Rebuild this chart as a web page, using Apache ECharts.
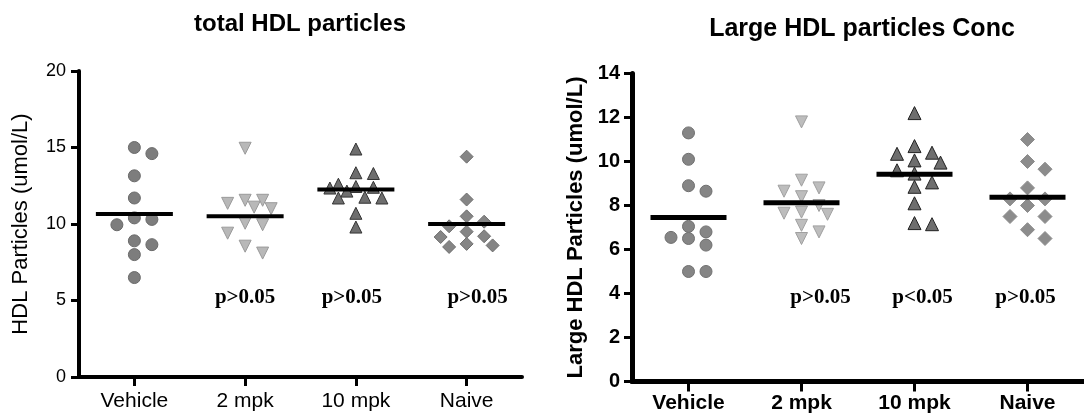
<!DOCTYPE html>
<html>
<head>
<meta charset="utf-8">
<script src="https://cdn.jsdelivr.net/npm/echarts@6/dist/echarts.min.js"></script>
<style>
html,body{margin:0;padding:0;background:#fff;}
#c{width:1084px;height:416px;}
</style>
</head>
<body>
<div id="c"></div>
<script>
// ---------- data ----------
const categories = ['Vehicle', '2 mpk', '10 mpk', 'Naive'];

const totalVehicle = [15.0, 14.6, 13.15, 11.7, 10.4, 9.95, 10.3, 8.65, 8.9, 8.0, 6.5];
const total2mpk    = [14.95, 11.35, 11.55, 11.55, 11.1, 11.0, 10.05, 9.95, 9.4, 8.1, 8.55];
const total10mpk   = [14.9, 13.3, 13.35, 12.6, 12.35, 12.45, 12.4, 12.15, 11.7, 11.7, 11.75, 10.7, 9.8];
const totalNaive   = [14.4, 11.6, 10.5, 10.15, 9.85, 9.5, 9.2, 9.15, 8.7, 8.5, 8.6];
const totalMeans   = [10.65, 10.5, 12.25, 10.0];
const totalPLabels = ['', 'p>0.05', 'p>0.05', 'p>0.05'];
const totalPLabelY = 5.2;
const totalYTicks  = { min: 0, max: 20, interval: 5 };

const largeVehicle = [11.3, 10.1, 8.65, 8.9, 6.8, 6.5, 7.05, 6.55, 6.2, 5.0, 5.0];
const large2mpk    = [11.8, 9.15, 8.65, 8.4, 8.8, 8.0, 7.6, 7.65, 7.7, 7.1, 6.5, 6.8];
const large10mpk   = [12.2, 10.7, 10.4, 10.05, 9.6, 8.85, 9.95, 9.05, 8.1, 7.15, 10.35, 9.45, 7.2];
const largeNaive   = [11.0, 10.0, 9.65, 8.8, 8.3, 8.3, 8.0, 7.5, 7.5, 6.9, 6.5];
const largeMeans   = [7.45, 8.13, 9.42, 8.38];
const largePLabels = ['', 'p>0.05', 'p<0.05', 'p>0.05'];
const largePLabelY = 3.8;
const largeYTicks  = { min: 0, max: 14, interval: 2 };

const title1 = 'total HDL particles';
const title2 = 'Large HDL particles Conc';
const yName1 = 'HDL Particles (umol/L)';
const yName2 = 'Large HDL Particles (umol/L)';

// ---------- styles ----------
const groupStyles = [
  [ // left chart
    { symbol: 'circle', size: 12, rotate: 0, color: '#7d7d7d', border: '#6a6a6a' },
    { symbol: 'triangle', size: 12, rotate: 180, color: '#b8b8b8', border: '#9a9a9a' },
    { symbol: 'triangle', size: 12, rotate: 0, color: '#6e6e6e', border: '#333333' },
    { symbol: 'diamond', size: 13, rotate: 0, color: '#858585', border: '#6f6f6f' }
  ],
  [ // right chart
    { symbol: 'circle', size: 12, rotate: 0, color: '#858585', border: '#707070' },
    { symbol: 'triangle', size: 12, rotate: 180, color: '#bdbdbd', border: '#a0a0a0' },
    { symbol: 'triangle', size: 13, rotate: 0, color: '#6e6e6e', border: '#222222' },
    { symbol: 'diamond', size: 14, rotate: 0, color: '#8c8c8c', border: '#8c8c8c' }
  ]
];

// horizontal nudge of the p-value annotations (pixels), per chart
const pLabelNudge = [[0, 0, -4, 11], [0, 19, 8, -2]];

const charts = [
  { groups: [totalVehicle, total2mpk, total10mpk, totalNaive], means: totalMeans,
    pl: totalPLabels, plY: totalPLabelY, ticks: totalYTicks, meanSize: [77, 4] },
  { groups: [largeVehicle, large2mpk, large10mpk, largeNaive], means: largeMeans,
    pl: largePLabels, plY: largePLabelY, ticks: largeYTicks, meanSize: [76, 5] }
];

const chart = echarts.init(document.getElementById('c'), null, { renderer: 'canvas' });

const FONT = '"Liberation Sans", Arial, sans-serif';
const SERIF = '"Liberation Serif", "Times New Roman", serif';

function buildSeries(offsets) {
  const series = [];
  charts.forEach((ch, gi) => {
    ch.groups.forEach((vals, ci) => {
      const st = groupStyles[gi][ci];
      series.push({
        type: 'scatter', xAxisIndex: gi, yAxisIndex: gi,
        symbol: st.symbol, symbolSize: st.size, symbolRotate: st.rotate,
        itemStyle: { color: st.color, borderColor: st.border, borderWidth: 1, opacity: 1 },
        z: 2, silent: true,
        data: vals.map((v, k) => ({
          value: [ci, v],
          symbolOffset: [offsets ? offsets[gi][ci][k] : 0, 0]
        }))
      });
    });
    // mean lines
    series.push({
      type: 'scatter', xAxisIndex: gi, yAxisIndex: gi,
      symbol: 'rect', symbolSize: ch.meanSize, z: 5, silent: true,
      itemStyle: { color: '#000', opacity: 1 },
      data: ch.means.map((m, ci) => [ci, m])
    });
    // p-value labels
    series.push({
      type: 'scatter', xAxisIndex: gi, yAxisIndex: gi,
      symbol: 'circle', symbolSize: 2, z: 6, silent: true,
      itemStyle: { color: 'rgba(0,0,0,0)', opacity: 1 },
      label: {
        show: true, position: 'inside', formatter: p => ch.pl[p.dataIndex],
        fontFamily: SERIF, fontWeight: 'bold', fontSize: 21, color: '#000', opacity: 1
      },
      data: ch.pl.map((t, ci) => ({ value: [ci, ch.plY], label: { offset: [pLabelNudge[gi][ci], 0] } }))
    });
  });
  return series;
}

function axisX(gi, bold, fs, margin, tickLen) {
  return {
    type: 'category', gridIndex: gi, data: categories, boundaryGap: true,
    axisLine: { show: true, lineStyle: { color: '#000', width: gi ? 5 : 4 } },
    axisTick: { show: true, alignWithLabel: true, length: tickLen, lineStyle: { color: '#000', width: 3 } },
    axisLabel: { color: '#000', fontFamily: FONT, fontSize: fs, fontWeight: bold ? 'bold' : 'normal', margin: margin },
    splitLine: { show: false }
  };
}
function axisY(gi, ticks, name, bold, fs, nfs, gap, margin) {
  return {
    type: 'value', gridIndex: gi, min: ticks.min, max: ticks.max, interval: ticks.interval,
    name: name, nameLocation: 'middle', nameGap: gap,
    nameTextStyle: { color: '#000', fontFamily: FONT, fontSize: nfs, fontWeight: bold ? 'bold' : 'normal' },
    axisLine: { show: true, lineStyle: { color: '#000', width: gi ? 5 : 4 } },
    axisTick: { show: true, length: 8, lineStyle: { color: '#000', width: 3 } },
    axisLabel: { color: '#000', fontFamily: FONT, fontSize: fs, fontWeight: bold ? 'bold' : 'normal', margin: margin },
    splitLine: { show: false }
  };
}

function baseOption(offsets) {
  return {
    animation: false,
    backgroundColor: '#fff',
    grid: [
      { left: 79, top: 71, width: 443, height: 306 },
      { left: 632, top: 73.5, width: 457, height: 308 }
    ],
    xAxis: [axisX(0, false, 21, 14, 9), axisX(1, true, 21, 11, 10)],
    yAxis: [axisY(0, totalYTicks, yName1, false, 18, 22, 47, 13),
            axisY(1, largeYTicks, yName2, true, 20, 22, 45, 12)],
    graphic: [
      { type: 'text', x: 300, y: 24, style: { text: title1, font: 'bold 24px ' + FONT, fill: '#000', textAlign: 'center', textVerticalAlign: 'middle' } },
      { type: 'text', x: 862, y: 29, style: { text: title2, font: 'bold 25px ' + FONT, fill: '#000', textAlign: 'center', textVerticalAlign: 'middle' } }
    ],
    series: buildSeries(offsets)
  };
}

chart.setOption(baseOption(null));

// column-scatter layout in pixel space: candidate columns, avoid overlap closer than D px
const COLS = [0, 17.5, -17.5, 9, -9, 26, -26];
function swarm(vals, gi, ci, D) {
  const pts = vals.map((v, k) => ({ k, v, py: chart.convertToPixel({ gridIndex: gi }, [ci, v])[1], x: 0 }));
  const order = pts.slice().sort((a, b) => b.v - a.v);
  const placed = [];
  order.forEach(p => {
    let chosen = null, best = -1, bestC = 0;
    for (const c of COLS) {
      let md = Infinity;
      placed.forEach(q => {
        const d = Math.hypot(c - q.x, p.py - q.py);
        if (d < md) md = d;
      });
      if (md >= D) { chosen = c; break; }
      if (md > best) { best = md; bestC = c; }
    }
    p.x = chosen === null ? bestC : chosen;
    placed.push(p);
  });
  return pts.map(p => p.x);
}

const offsets = charts.map((ch, gi) => ch.groups.map((vals, ci) => swarm(vals, gi, ci, 12)));
chart.setOption(baseOption(offsets), true);
</script>
</body>
</html>
